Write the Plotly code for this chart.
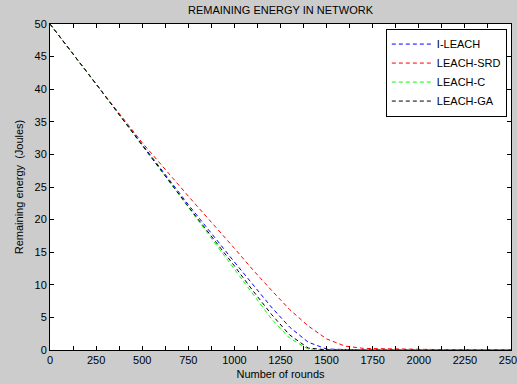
import plotly.graph_objects as go

rounds = [0, 250, 500, 750, 1000, 1100, 1200, 1300, 1400, 1500, 1600, 1700, 1800, 1900, 2000, 2250, 2500]
i_leach = [50, 40.8, 31.5, 22.3, 13.5, 10.0, 6.6, 3.5, 1.2, 0.15, 0.03, 0.01, 0, 0, 0, 0, 0]
leach_srd = [50, 40.8, 31.8, 23.6, 15.6, 12.3, 9.2, 6.2, 3.7, 1.7, 0.6, 0.25, 0.2, 0.15, 0.05, 0, 0]
leach_c = [50, 40.8, 31.4, 21.9, 12.4, 8.5, 4.8, 1.8, 0.15, 0.03, 0.01, 0, 0, 0, 0, 0, 0]
leach_ga = [50, 40.8, 31.4, 22.0, 12.9, 9.1, 5.5, 2.3, 0.3, 0.03, 0.01, 0, 0, 0, 0, 0, 0]
x_ticks = [0, 250, 500, 750, 1000, 1250, 1500, 1750, 2000, 2250, 2500]

series = [
    ("I-LEACH", i_leach, "#0000ff"),
    ("LEACH-SRD", leach_srd, "#ff0000"),
    ("LEACH-C", leach_c, "#00ff00"),
    ("LEACH-GA", leach_ga, "#000000"),
]

FONT = "Liberation Sans, Arial, sans-serif"

fig = go.Figure()
for name, vals, color in series:
    fig.add_trace(go.Scatter(
        x=rounds, y=vals, mode="lines", name=name,
        line=dict(color=color, width=1, dash="4px,3px"),
    ))

axis_common = dict(
    showline=True, linecolor="black", linewidth=1, mirror="ticks",
    ticks="inside", ticklen=4, tickcolor="black", tickwidth=1,
    showgrid=False, zeroline=False, automargin=False,
    ticklabeloverflow="allow",
    tickfont=dict(family=FONT, size=11, color="black"),
)

fig.update_layout(
    width=517, height=384,
    paper_bgcolor="#cccccc", plot_bgcolor="white",
    margin=dict(l=50, r=6, t=24, b=34),
    font=dict(family=FONT, size=11, color="black"),
    title=dict(text="REMAINING ENERGY IN NETWORK", x=0.5, xref="paper",
               y=0.984, yref="container", yanchor="top", pad=dict(t=0, b=0),
               font=dict(family=FONT, size=11, color="black")),
    xaxis=dict(range=[0, 2500], tickmode="array", tickvals=x_ticks,
               minor=dict(dtick=125, ticks="inside", ticklen=4, tickcolor="black", showgrid=False),
               title=dict(text="Number of rounds", standoff=5,
                          font=dict(family=FONT, size=11, color="black")),
               **axis_common),
    yaxis=dict(range=[0, 50], dtick=5,
               title=dict(text="Remaining energy  (Joules)", standoff=8,
                          font=dict(family=FONT, size=11, color="black")),
               **axis_common),
    showlegend=True,
    legend=dict(x=0.991, y=0.986, xanchor="right", yanchor="top",
                bgcolor="white", bordercolor="black", borderwidth=1,
                font=dict(family=FONT, size=11, color="black"),
                itemwidth=40, tracegroupgap=0),
)

fig.write_html("out.html", config={"displayModeBar": False},
               post_script="document.body.style.margin='0';")
